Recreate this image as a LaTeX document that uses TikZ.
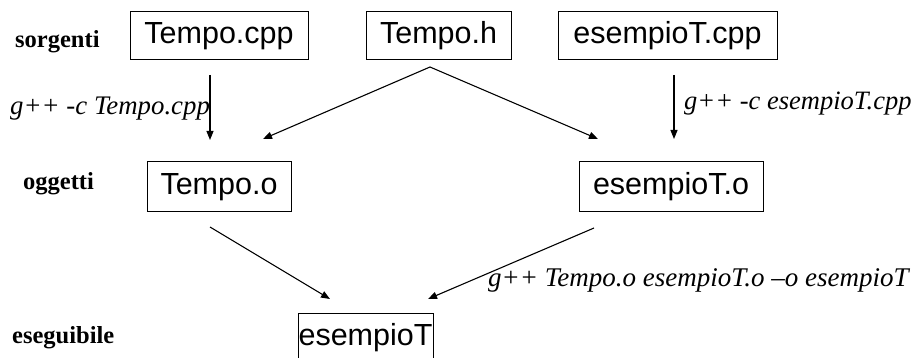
\documentclass[tikz,border=0pt]{standalone}
\usepackage{fontspec}
\setmainfont{Liberation Serif}
\newfontfamily\boxfont{Liberation Sans}
\usetikzlibrary{arrows.meta}
\begin{document}
\begin{tikzpicture}[x=1pt,y=-1pt,
  filebox/.style={draw,line width=1pt,inner sep=0pt,font=\boxfont\fontsize{30.5}{34}\selectfont,minimum height=48pt},
  lvl/.style={anchor=base west,inner sep=0pt,font=\bfseries\fontsize{24.5}{28}\selectfont},
  cmd/.style={anchor=base west,inner sep=0pt,font=\itshape\fontsize{26.8}{30}\selectfont},
  arr/.style={line width=1.1pt,-{Triangle[length=9pt,width=7pt]}}]
\useasboundingbox (0,0) rectangle (916,358);
% boxes
\node[filebox,minimum width=178pt] (tcpp) at (219,36) {Tempo.cpp};
\node[filebox,minimum width=145pt] (th) at (438.5,36) {Tempo.h};
\node[filebox,minimum width=219pt] (ecpp) at (667.5,36) {esempioT.cpp};
\node[filebox,minimum width=144pt,minimum height=50pt] (to) at (219,187) {Tempo.o};
\node[filebox,minimum width=184pt,minimum height=50pt] (eo) at (671,187) {esempioT.o};
\node[filebox,minimum width=135pt,minimum height=50pt] (ex) at (365.5,338) {esempioT};
% level labels
\node[lvl] (ls) at (15,48) {sorgenti};
\node[lvl] (lo) at (23,190) {oggetti};
\node[lvl] (le) at (12,343) {eseguibile};
% command labels
\node[cmd] (c1) at (10,115) {g++ -c Tempo.cpp};
\node[cmd,font=\itshape\fontsize{26.5}{30}\selectfont] (c2) at (684,110) {g++ -c esempioT.cpp};
\node[cmd,font=\itshape\fontsize{27}{30}\selectfont] (c3) at (488,287) {g++ Tempo.o esempioT.o –o esempioT};
% connector points
\coordinate (a1s) at (210,75);
\coordinate (a1e) at (210,140);
\coordinate (hap) at (430,67);
\coordinate (hl) at (263,139);
\coordinate (hr) at (598,139);
\coordinate (a2s) at (674,75);
\coordinate (a2e) at (674,139);
\coordinate (tos) at (210,227);
\coordinate (toe) at (330,299);
\coordinate (eos) at (594,228);
\coordinate (eoe) at (428,299);
% connectors
\draw[arr] (a1s) -- (a1e);
\draw[arr] (hap) -- (hl);
\draw[arr] (hap) -- (hr);
\draw[arr] (a2s) -- (a2e);
\draw[arr] (tos) -- (toe);
\draw[arr] (eos) -- (eoe);
\end{tikzpicture}
\end{document}
